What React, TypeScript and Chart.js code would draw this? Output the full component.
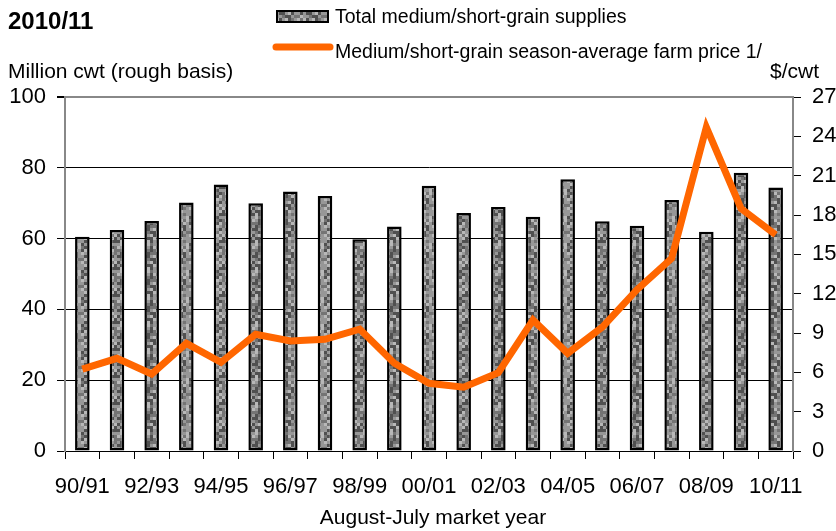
import React, { useEffect, useRef } from "react";
import { Chart, registerables } from "chart.js";

Chart.register(...registerables);

const categories = [
  "90/91", "91/92", "92/93", "93/94", "94/95", "95/96", "96/97", "97/98", "98/99", "99/00",
  "00/01", "01/02", "02/03", "03/04", "04/05", "05/06", "06/07", "07/08", "08/09", "09/10", "10/11",
];

// Total medium/short-grain supplies, million cwt
const supplies = [
  60.5, 62.4, 65.0, 70.2, 75.3, 70.0, 73.3, 72.0, 59.8, 63.4,
  74.9, 67.2, 68.9, 66.2, 76.8, 64.9, 63.6, 70.9, 61.9, 78.6, 74.4,
];

// Season-average farm price, $/cwt
const prices = [
  6.25, 7.07, 5.87, 8.21, 6.76, 8.9, 8.39, 8.52, 9.3, 6.69,
  5.16, 4.86, 5.97, 9.99, 7.45, 9.45, 12.3, 14.7, 24.7, 18.5, 16.5,
];

const leftTicks = [0, 20, 40, 60, 80, 100];
const rightTicks = [0, 3, 6, 9, 12, 15, 18, 21, 24, 27];

const FONT = "'Liberation Sans', Arial, sans-serif";
const ORANGE = "#FF6600";

function makePattern(): CanvasPattern | string {
  const tile = document.createElement("canvas");
  tile.width = 27;
  tile.height = 27;
  const c = tile.getContext("2d");
  if (!c) return "#888";
  c.fillStyle = "#8a8a8a";
  c.fillRect(0, 0, 27, 27);
  for (let y = 0; y < 27; y += 3) {
    for (let x = 0; x < 27; x += 3) {
      const h = Math.abs(Math.sin(x * 12.9898 + y * 78.233) * 43758.5453) % 1;
      let col = "#8a8a8a";
      if (h < 0.22) col = "#505050";
      else if (h < 0.45) col = "#747474";
      else if (h < 0.75) col = "#979797";
      else col = "#b8b8b8";
      c.fillStyle = col;
      c.fillRect(x, y, 3, 3);
    }
  }
  const p = c.createPattern(tile, "repeat");
  return p || "#888";
}

export default function App() {
  const ref = useRef<HTMLCanvasElement>(null);

  useEffect(() => {
    const canvas = ref.current;
    if (!canvas) return;
    const pattern = makePattern();

    const textPlugin = {
      id: "texts",
      afterDraw(chart: any) {
        const ctx = chart.ctx as CanvasRenderingContext2D;
        ctx.save();
        ctx.fillStyle = "#000";
        ctx.textBaseline = "alphabetic";
        ctx.textAlign = "left";
        ctx.font = `bold 24px ${FONT}`;
        ctx.fillText("2010/11", 8, 29);

        // legend
        ctx.fillStyle = pattern as any;
        ctx.fillRect(276, 10, 53, 13);
        ctx.strokeStyle = "#000";
        ctx.lineWidth = 2;
        ctx.strokeRect(277, 11, 51, 11);
        ctx.beginPath();
        ctx.strokeStyle = ORANGE;
        ctx.lineWidth = 7;
        ctx.lineCap = "round";
        ctx.moveTo(276, 47);
        ctx.lineTo(330, 47);
        ctx.stroke();

        ctx.fillStyle = "#000";
        ctx.font = `19.5px ${FONT}`;
        ctx.fillText("Total medium/short-grain supplies", 335, 23);
        ctx.fillText("Medium/short-grain season-average farm price 1/", 335, 58);

        ctx.font = `21px ${FONT}`;
        ctx.fillText("Million cwt (rough basis)", 8, 78);
        ctx.fillText("$/cwt", 770, 78);

        ctx.textAlign = "center";
        ctx.fillText("August-July market year", 433, 524);
        ctx.restore();
      },
    };

    const chart = new Chart(canvas, {
      type: "bar",
      data: {
        labels: categories,
        datasets: [
          {
            type: "line",
            label: "Medium/short-grain season-average farm price 1/",
            data: prices,
            yAxisID: "y2",
            borderColor: ORANGE,
            backgroundColor: ORANGE,
            borderWidth: 7,
            pointRadius: 0,
            tension: 0,
            borderJoinStyle: "miter",
            order: 0,
          } as any,
          {
            type: "bar",
            label: "Total medium/short-grain supplies",
            data: supplies,
            yAxisID: "y",
            backgroundColor: pattern as any,
            borderColor: "#000",
            borderWidth: 2.5,
            borderSkipped: false,
            barPercentage: 0.42,
            categoryPercentage: 1,
            order: 1,
          } as any,
        ],
      },
      options: {
        responsive: false,
        maintainAspectRatio: false,
        animation: false,
        layout: { padding: { top: 97, left: 0, right: 0, bottom: 0 } },
        plugins: {
          legend: { display: false },
          tooltip: { enabled: false },
          title: { display: false },
        },
        scales: {
          x: {
            offset: true,
            grid: {
              offset: true,
              drawOnChartArea: false,
              drawTicks: true,
              tickLength: 8,
              color: "#000",
              tickColor: "#000",
              lineWidth: 1,
            },
            border: { display: true, color: "#000", width: 1 },
            ticks: {
              autoSkip: false,
              maxRotation: 0,
              minRotation: 0,
              padding: 15,
              color: "#000",
              font: { family: FONT, size: 22 },
              callback: (_v: any, i: number) => (i % 2 === 0 ? categories[i] : ""),
            },
            afterFit: (s: any) => {
              s.height = 80;
            },
          },
          y: {
            position: "left",
            min: 0,
            max: 100,
            afterBuildTicks: (s: any) => {
              s.ticks = leftTicks.map((v) => ({ value: v }));
            },
            grid: {
              drawTicks: true,
              tickLength: 8,
              color: (c: any) => (c.tick && c.tick.value === 100 ? "#888" : "#000"),
              lineWidth: (c: any) => (c.tick && c.tick.value === 100 ? 2 : 1),
              tickColor: "#000",
            },
            border: { display: true, color: "#888", width: 2 },
            ticks: {
              padding: 11,
              color: "#000",
              font: { family: FONT, size: 22 },
            },
            afterFit: (s: any) => {
              s.width = 65;
            },
          },
          y2: {
            position: "right",
            min: 0,
            max: 27,
            afterBuildTicks: (s: any) => {
              s.ticks = rightTicks.map((v) => ({ value: v }));
            },
            grid: {
              drawOnChartArea: false,
              drawTicks: true,
              tickLength: 8,
              tickColor: "#000",
              color: "#000",
            },
            border: { display: true, color: "#888", width: 2 },
            ticks: {
              padding: 11,
              color: "#000",
              font: { family: FONT, size: 22 },
            },
            afterFit: (s: any) => {
              s.width = 43;
            },
          },
        },
      } as any,
      plugins: [textPlugin],
    });

    return () => chart.destroy();
  }, []);

  return (
    <div style={{ position: "absolute", left: 0, top: 0, width: 836, height: 531 }}>
      <canvas ref={ref} width={836} height={531} style={{ width: 836, height: 531, display: "block" }} />
    </div>
  );
}
